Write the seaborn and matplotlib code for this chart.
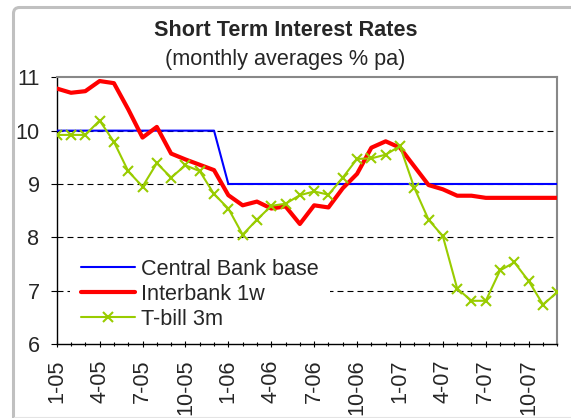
import matplotlib
matplotlib.use("Agg")
import matplotlib.pyplot as plt
from matplotlib.patches import FancyBboxPatch
from matplotlib.lines import Line2D
import numpy as np
import pandas as pd
import seaborn as sns

# Month categories (Jan 2005 .. Dec 2007)
months = [f"{m}-{y:02d}" for y in (5, 6, 7) for m in range(1, 13)]

# Monthly averages, % pa
central_bank = [10.0, 10.0, 10.0, 10.0, 10.0, 10.0, 10.0, 10.0, 10.0, 10.0, 10.0, 10.0,
                9.0, 9.0, 9.0, 9.0, 9.0, 9.0, 9.0, 9.0, 9.0, 9.0, 9.0, 9.0,
                9.0, 9.0, 9.0, 9.0, 9.0, 9.0, 9.0, 9.0, 9.0, 9.0, 9.0, 9.0]
interbank = [10.79, 10.71, 10.74, 10.93, 10.89, 10.40, 9.87, 10.07, 9.57, 9.46, 9.36, 9.26,
             8.79, 8.60, 8.67, 8.54, 8.58, 8.25, 8.60, 8.56, 8.92, 9.19, 9.68, 9.80,
             9.68, 9.33, 8.98, 8.90, 8.78, 8.78, 8.74, 8.74, 8.74, 8.74, 8.74, 8.74]
tbill = [9.92, 9.92, 9.92, 10.19, 9.79, 9.24, 8.95, 9.39, 9.12, 9.35, 9.24, 8.81,
         8.54, 8.05, 8.33, 8.59, 8.63, 8.79, 8.86, 8.80, 9.12, 9.47, 9.48, 9.55,
         9.71, 8.93, 8.33, 8.02, 7.04, 6.81, 6.81, 7.38, 7.53, 7.18, 6.74, 6.97]

series_names = ["Central Bank base", "Interbank 1w", "T-bill 3m"]
y_ticks = [6, 7, 8, 9, 10, 11]

df = pd.DataFrame({
    "pos": np.arange(len(months)),
    "month": months,
    "Central Bank base": central_bank,
    "Interbank 1w": interbank,
    "T-bill 3m": tbill,
})

sns.set_theme(style="white")
plt.rcParams["font.family"] = ["Liberation Sans", "DejaVu Sans"]
plt.rcParams["lines.scale_dashes"] = False

W, H = 571, 418
fig = plt.figure(figsize=(W / 100, H / 100), dpi=100)
fig.patch.set_facecolor("white")

# plot area in pixels: x 56.7..557.3, y 77.3..344
left, right, top, bottom = 56.7, 557.3, 77.3, 344.0
ax = fig.add_axes([left / W, 1 - bottom / H, (right - left) / W, (bottom - top) / H])
ax.set_facecolor("white")

# dashed horizontal gridlines
for g in (7, 8, 9, 10):
    ax.axhline(g, color="black", lw=0.8, linestyle=(0, (4.3, 2.9)), zorder=1)

fs = 15.6
sns.lineplot(data=df, x="pos", y="Central Bank base", color="#0000ff", lw=1.5,
             label=series_names[0], ax=ax, zorder=3)
sns.lineplot(data=df, x="pos", y="Interbank 1w", color="#ff0000", lw=3.0,
             label=series_names[1], ax=ax, zorder=4)
sns.lineplot(data=df, x="pos", y="T-bill 3m", color="#99cc00", lw=1.5,
             marker="x", markersize=7, markeredgewidth=1.5, markeredgecolor="#99cc00",
             label=series_names[2], ax=ax, zorder=5)

ax.set_xlim(0, len(months) - 1)
ax.set_ylim(6, 11)
ax.set_xlabel("")
ax.set_ylabel("")

ax.set_yticks(y_ticks)
ax.set_yticklabels([str(t) for t in y_ticks], fontsize=fs)
ax.set_xticks(df["pos"][::3])
ax.set_xticklabels(df["month"][::3], rotation=90, fontsize=fs)
ax.set_xticks(df["pos"], minor=True)

ax.tick_params(axis="y", which="major", direction="out", length=4.3, width=0.8,
               color="black", pad=8, left=True)
ax.tick_params(axis="x", which="major", direction="inout", length=4.5, width=0.8,
               color="black", pad=9, bottom=True)
ax.tick_params(axis="x", which="minor", direction="inout", length=3.0, width=0.8,
               color="black", bottom=True)

for s in ("left", "bottom"):
    ax.spines[s].set_color("black")
    ax.spines[s].set_linewidth(1.0)
for s in ("top", "right"):
    ax.spines[s].set_color("#888888")
    ax.spines[s].set_linewidth(1.5)
    ax.spines[s].set_visible(True)

leg = ax.legend(loc="upper left", bbox_to_anchor=(0.0262, 0.360), borderaxespad=0,
                fontsize=fs, handlelength=2.5, handletextpad=0.3, labelspacing=0.19,
                borderpad=0.5, frameon=True, fancybox=False, framealpha=1,
                facecolor="white", edgecolor="none")
leg.set_zorder(6)

# titles
fig.text(0.5, 1 - 36 / H, "Short Term Interest Rates", ha="center", va="baseline",
         fontsize=fs, fontweight="bold")
fig.text(0.5, 1 - 64.5 / H, "(monthly averages % pa)", ha="center", va="baseline",
         fontsize=fs)

# chart frame
frame = FancyBboxPatch((13.5, -20), 620, H - 7.5 + 20,
                       boxstyle="round,pad=0,rounding_size=6", transform=None,
                       fill=False, ec="#c0c0c0", lw=2.2)
fig.add_artist(frame)
fig.add_artist(Line2D([13.5, W], [1.5, 1.5], transform=None, color="#e4e4e4", lw=0.8))

fig.savefig("out.png", dpi=100)
